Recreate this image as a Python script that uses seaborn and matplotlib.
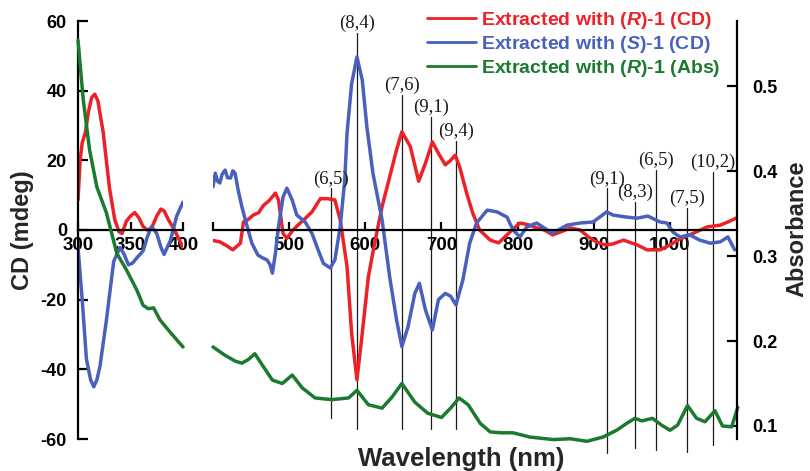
import numpy as np
import pandas as pd
import matplotlib
matplotlib.use("Agg")
import matplotlib.pyplot as plt
import seaborn as sns

# ---------------- data ----------------
# left panel (300-400 nm)
red_l_wl = [300, 302, 304, 307, 310, 313, 316, 319, 324, 330, 335, 339, 342, 346, 350, 354, 358, 362, 366, 370, 375, 379, 382, 386, 391, 396, 400]
red_l_cd = [8.6, 20, 25, 28, 34, 38, 39, 37, 28, 12, 3, -0.5, -1, 2.5, 4, 5, 3.5, 1, 0, 0.5, 4, 6, 5.5, 3, 0.5, -2.5, -5]

blue_l_wl = [300, 304, 308, 312, 315, 318, 321, 327, 334, 340, 344, 348, 352, 356, 362, 366, 370, 375, 379, 382, 388, 394, 400]
blue_l_cd = [-5, -20, -37, -43, -45, -43, -39, -26, -9, -5, -7, -10, -9.5, -8, -6, -2, 1, -1, -5, -7, -3, 4, 8]

green_l_wl = [300, 305, 311, 318, 327, 337, 346, 356, 362, 367, 372, 378, 388, 400]
green_l_abs = [0.554, 0.484, 0.425, 0.381, 0.351, 0.303, 0.284, 0.26, 0.242, 0.238, 0.239, 0.225, 0.21, 0.193]

# right panel (400-1090 nm)
red_r_wl = [400, 409, 418, 426, 436, 440, 446, 453, 460, 466, 474, 482, 486, 492, 497, 505, 512, 519, 530, 541,
            550, 560, 567, 576, 582, 589, 596, 604, 613, 622, 632, 641, 648, 659, 670, 679, 688, 696, 705, 712,
            718, 724, 733, 741, 750, 764, 775, 786, 795, 803, 814, 825, 835, 846, 857, 869, 882, 893, 904, 915,
            925, 939, 957, 970, 987, 1000, 1013, 1030, 1049, 1066, 1076, 1088]
red_r_cd = [-3, -3.4, -4.5, -5.7, -3.8, 2.3, 3, 4.3, 5, 7, 8.5, 10.6, 8.6, -1, -2.4, 0, 1.5, 2.9, 5.2, 9,
            9, 8.6, 2.9, -10.5, -29.6, -43, -29.6, -13.4, -2.9, 6.7, 15.3, 23, 28.2, 24, 14, 19.2, 25.3, 22, 18.7, 20,
            21.5, 18, 10.6, 4.9, 0, -2.9, -3.7, -1.4, 0.5, 2, 1.5, 0.6, 0, -1.4, -0.5, 0.6, 0, -2, -3.5, -4.3,
            -4, -2.9, -4.3, -5.7, -5.7, -4.3, -2.6, -1, 0.9, 1.4, 2.3, 3.5]

blue_r_wl = [400, 403, 406, 409, 412, 416, 419, 423, 426, 429, 433, 438, 445, 451, 459, 465, 471, 475, 478, 482,
             486, 492, 497, 504, 510, 521, 530, 538, 545, 554, 560, 567, 573, 576, 582, 589, 596, 602, 610, 622,
             632, 641, 648, 656, 665, 671, 679, 688, 696, 705, 712, 719, 728, 737, 746, 760, 773, 786, 794, 803,
             812, 825, 839, 846, 865, 882, 899, 917, 925, 943, 957, 971, 987, 996, 1004, 1013, 1026, 1039, 1053, 1066,
             1076, 1085]
blue_r_cd = [12.4, 16.3, 14, 13.5, 16, 17.2, 15, 14.9, 17, 16.3, 11.5, 6.6, 0.9, -3.8, -7.2, -8, -8.6, -10, -12.4, -6.6,
             0.9, 9.5, 12, 8.6, 4.3, 2.3, -1, -5.7, -9.6, -10.9, -8.6, 0.9, 14.4, 27.8, 42, 49.7, 43, 29.7, 16.3, 2.9,
             -13.5, -25.8, -33.5, -27.8, -18.2, -15.3, -23, -28.7, -20, -18.2, -19, -21.5, -14.4, -3.8, 2, 5.7, 5.2, 3.7, 0, -2,
             0.9, 2, 0, -0.9, 1.4, 2, 2.3, 5.2, 4.3, 3.7, 3.4, 4, 2.3, 2, -0.6, -2, -1.4, -2.9, -3.8, -3.4,
             -2, -5.7]

green_r_wl = [400, 416, 430, 438, 446, 455, 466, 478, 491, 504, 517, 534, 556, 578, 589, 604, 622, 635, 648, 665,
              682, 700, 713, 723, 735, 751, 764, 779, 794, 816, 847, 869, 891, 912, 930, 943, 954, 963, 977, 989,
              1000, 1010, 1023, 1035, 1046, 1059, 1069, 1081, 1089]
green_r_abs = [0.193, 0.183, 0.176, 0.174, 0.178, 0.185, 0.17, 0.154, 0.15, 0.16, 0.145, 0.133, 0.131, 0.133, 0.142, 0.125, 0.121, 0.134, 0.15, 0.128,
               0.115, 0.11, 0.122, 0.133, 0.125, 0.103, 0.093, 0.092, 0.092, 0.087, 0.084, 0.085, 0.082, 0.087, 0.095, 0.103, 0.109, 0.106, 0.109, 0.101,
               0.095, 0.101, 0.124, 0.109, 0.105, 0.118, 0.1, 0.099, 0.122]

# chirality assignment markers
chir_labels = ['(6,5)', '(8,4)', '(7,6)', '(9,1)', '(9,4)', '(9,1)', '(8,3)', '(6,5)', '(7,5)', '(10,2)']
chir_wl = [555, 589, 648, 686, 719, 917, 954, 981, 1023, 1056]
chir_top = [12, 56.5, 38.8, 32.4, 25.5, 12, 8, 17.2, 6.3, 16.6]
chir_bottom = [-54, -57, -57, -57, -57, -64, -62.6, -63.2, -63.7, -61.7]

legend_labels = [r'Extracted with ($\mathit{R}$)-1 (CD)',
                 r'Extracted with ($\mathit{S}$)-1 (CD)',
                 r'Extracted with ($\mathit{R}$)-1 (Abs)']
left_xticks = [300, 350, 400]
right_xticks = [400, 500, 600, 700, 800, 900, 1000]
cd_ticks = [-60, -40, -20, 0, 20, 40, 60]
abs_ticks = [0.1, 0.2, 0.3, 0.4, 0.5]

RED = '#ec2227'
BLUE = '#4a60bd'
GREEN = '#1c7a30'

# ---------------- style ----------------
sns.set_theme(style='white')
plt.rcParams['font.family'] = ['Liberation Sans', 'DejaVu Sans']
plt.rcParams['font.weight'] = 'bold'
plt.rcParams['axes.unicode_minus'] = False
plt.rcParams['mathtext.fontset'] = 'custom'
plt.rcParams['mathtext.it'] = 'Liberation Sans:italic:bold'
plt.rcParams['mathtext.rm'] = 'Liberation Sans:bold'
plt.rcParams['mathtext.bf'] = 'Liberation Sans:bold'

W, H = 810, 471
fig = plt.figure(figsize=(W / 100, H / 100), dpi=100)
bot, top = 439, 21
ax1 = fig.add_axes([78 / W, (H - bot) / H, (183 - 78) / W, (bot - top) / H])
ax2 = fig.add_axes([213 / W, (H - bot) / H, (737 - 213) / W, (bot - top) / H])
ax1b = ax1.twinx()
ax2b = ax2.twinx()

LW = 2.5
abs_lim = (0.0847, 0.5765)

def dfm(x, y):
    return pd.DataFrame({'x': x, 'y': y})

# left panel curves
sns.lineplot(data=dfm(red_l_wl, red_l_cd), x='x', y='y', ax=ax1, color=RED, lw=LW, estimator=None)
sns.lineplot(data=dfm(blue_l_wl, blue_l_cd), x='x', y='y', ax=ax1, color=BLUE, lw=LW, estimator=None)
sns.lineplot(data=dfm(green_l_wl, green_l_abs), x='x', y='y', ax=ax1b, color=GREEN, lw=LW, estimator=None)

# right panel curves
sns.lineplot(data=dfm(red_r_wl, red_r_cd), x='x', y='y', ax=ax2, color=RED, lw=LW, estimator=None,
             label=legend_labels[0])
sns.lineplot(data=dfm(blue_r_wl, blue_r_cd), x='x', y='y', ax=ax2, color=BLUE, lw=LW, estimator=None,
             label=legend_labels[1])
sns.lineplot(data=dfm(green_r_wl, green_r_abs), x='x', y='y', ax=ax2b, color=GREEN, lw=LW, estimator=None,
             label=legend_labels[2])
for a in (ax1, ax2, ax1b, ax2b):
    for ln in a.lines:
        ln.set_solid_joinstyle('round')
        ln.set_solid_capstyle('round')
for a in (ax1b, ax2b):
    for ln in a.lines:
        ln.set_clip_on(False)

for a in (ax1, ax2):
    a.set_ylim(-60, 60)
for a in (ax1b, ax2b):
    a.set_ylim(*abs_lim)
ax1.set_xlim(300, 400)
ax1b.set_xlim(300, 400)
ax2.set_xlim(400, 1088)

for a in (ax1, ax2, ax1b, ax2b):
    a.set_xlabel('')
    a.set_ylabel('')
    a.patch.set_visible(False)
    for s in a.spines.values():
        s.set_visible(False)
    a.grid(False)

# left axis
ax1.spines['left'].set_visible(True)
ax1.spines['left'].set_linewidth(1.6)
ax1.spines['left'].set_color('black')
ax1.set_yticks(cd_ticks)
ax1.set_yticklabels([str(t) for t in cd_ticks])
ax1.tick_params(axis='y', direction='in', length=7, width=1.6, pad=8, labelsize=13, colors='black', left=True)

# zero lines as x-axes
for a, ticks, labels in ((ax1, left_xticks, ['300', '350', '400']),
                         (ax2, right_xticks, [''] + [str(t) for t in right_xticks[1:]])):
    a.spines['bottom'].set_visible(True)
    a.spines['bottom'].set_position(('data', 0))
    a.spines['bottom'].set_linewidth(1.6)
    a.spines['bottom'].set_color('black')
    a.set_xticks(ticks)
    a.set_xticklabels(labels)
    a.tick_params(axis='x', direction='in', length=6, width=1.6, pad=5, labelsize=13.5, colors='black', bottom=True)
ax2.set_yticks([])
ax1b.set_yticks([])

# right absorbance axis
ax2b.spines['right'].set_visible(True)
ax2b.spines['right'].set_linewidth(1.6)
ax2b.spines['right'].set_color('black')
ax2b.set_yticks(abs_ticks)
ax2b.set_yticklabels([f'{t:.1f}' for t in abs_ticks])
ax2b.tick_params(axis='y', direction='in', length=7, width=1.6, pad=11, labelsize=13, colors='black', right=True)

# chirality marker lines
for lab, wl, t, b in zip(chir_labels, chir_wl, chir_top, chir_bottom):
    ax2.plot([wl, wl], [b, t], color='#1a1a1a', lw=0.9, clip_on=False, zorder=1)
    ax2.annotate(lab, xy=(wl, t), xytext=(0, 0.5), textcoords='offset points',
                 ha='center', va='bottom', fontsize=13.5, fontweight='normal',
                 family=['Liberation Serif', 'DejaVu Serif'], color='#1a1a1a')

# legend
h2, l2 = ax2.get_legend_handles_labels()
hb, lb = ax2b.get_legend_handles_labels()
if ax2.get_legend() is not None:
    ax2.get_legend().remove()
if ax2b.get_legend() is not None:
    ax2b.get_legend().remove()
leg = fig.legend(h2 + hb, l2 + lb, loc='upper left', bbox_to_anchor=(427 / W, 1 - 10 / H),
                 frameon=False, fontsize=14, handlelength=2.5, handletextpad=0.3,
                 labelspacing=0.15, borderpad=0, borderaxespad=0)
for txt, c in zip(leg.get_texts(), (RED, BLUE, GREEN)):
    txt.set_color(c)
    txt.set_fontweight('bold')
for ln in leg.get_lines():
    ln.set_linewidth(2.0)

# axis titles
fig.text(22 / W, 1 - 230 / H, 'CD (mdeg)', rotation=90, ha='center', va='center', fontsize=17, fontweight='bold')
fig.text(797 / W, 1 - 229 / H, 'Absorbance', rotation=90, ha='center', va='center', fontsize=17, fontweight='bold')
fig.text(461 / W, 1 - 459 / H, 'Wavelength (nm)', ha='center', va='center', fontsize=18.5, fontweight='bold')

fig.savefig('out.png', dpi=100)
